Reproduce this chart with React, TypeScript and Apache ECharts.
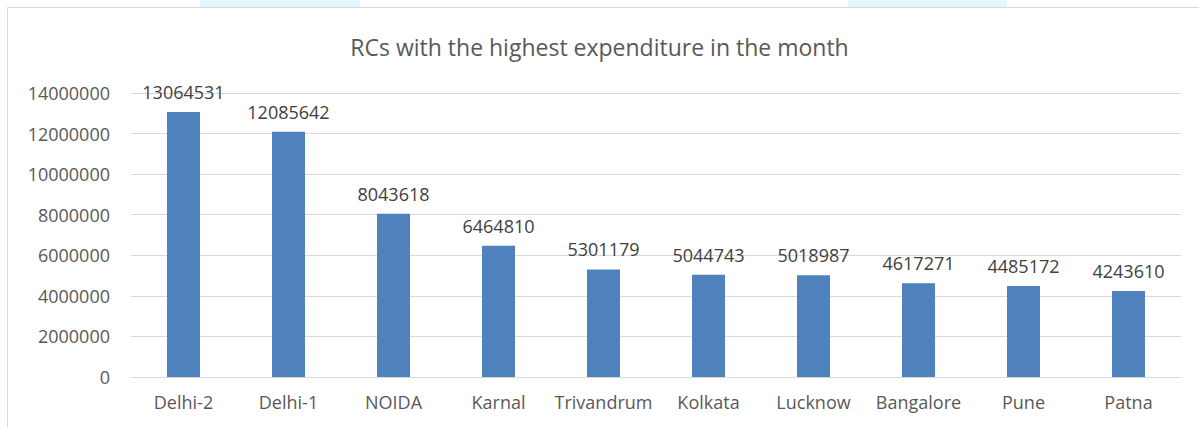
import React, { useEffect, useRef } from "react";
import * as echarts from "echarts";

const categories = ["Delhi-2", "Delhi-1", "NOIDA", "Karnal", "Trivandrum", "Kolkata", "Lucknow", "Bangalore", "Pune", "Patna"];
const values = [13064531, 12085642, 8043618, 6464810, 5301179, 5044743, 5018987, 4617271, 4485172, 4243610];
const titleText = "RCs with the highest expenditure in the month";

export default function App() {
  const ref = useRef<HTMLDivElement>(null);
  useEffect(() => {
    const chart = echarts.init(ref.current!, null, { renderer: "svg" });
    const font = "'Open Sans', sans-serif";
    chart.setOption({
      animation: false,
      backgroundColor: "#ffffff",
      title: {
        text: titleText,
        left: "center",
        top: 30,
        textStyle: { fontFamily: font, fontSize: 23, fontWeight: "normal", color: "#595959" },
      },
      graphic: [
        { type: "rect", shape: { x: 200, y: 0, width: 160, height: 7 }, style: { fill: "#e3f8fd" } },
        { type: "rect", shape: { x: 848, y: 0, width: 159, height: 7 }, style: { fill: "#e3f8fd" } },
        { type: "polyline", shape: { points: [[7.5, 427], [7.5, 7.5], [1199, 7.5]] }, style: { stroke: "#d9d9d9", fill: "none", lineWidth: 1 } },
      ],
      grid: { left: 131, right: 18, top: 93, bottom: 50, containLabel: false },
      xAxis: {
        type: "category",
        data: categories,
        axisLine: { lineStyle: { color: "#d9d9d9", width: 1 } },
        axisTick: { show: false },
        axisLabel: { interval: 0, fontFamily: font, fontSize: 18, color: "#595959", margin: 16 },
      },
      yAxis: {
        type: "value",
        min: 0,
        max: 14000000,
        interval: 2000000,
        axisLine: { show: false },
        axisTick: { show: false },
        splitLine: { lineStyle: { color: "#d9d9d9", width: 1 } },
        axisLabel: { fontFamily: font, fontSize: 18, color: "#595959", margin: 21, formatter: (v: number) => String(v) },
      },
      series: [
        {
          type: "bar",
          data: values,
          barWidth: 33,
          itemStyle: { color: "#4f81bd" },
          label: { show: true, position: "top", distance: 11, fontFamily: font, fontSize: 18, color: "#404040" },
        },
      ],
    });
    return () => chart.dispose();
  }, []);
  return <div ref={ref} style={{ position: "fixed", left: 0, top: 0, width: 1199, height: 427 }} />;
}
